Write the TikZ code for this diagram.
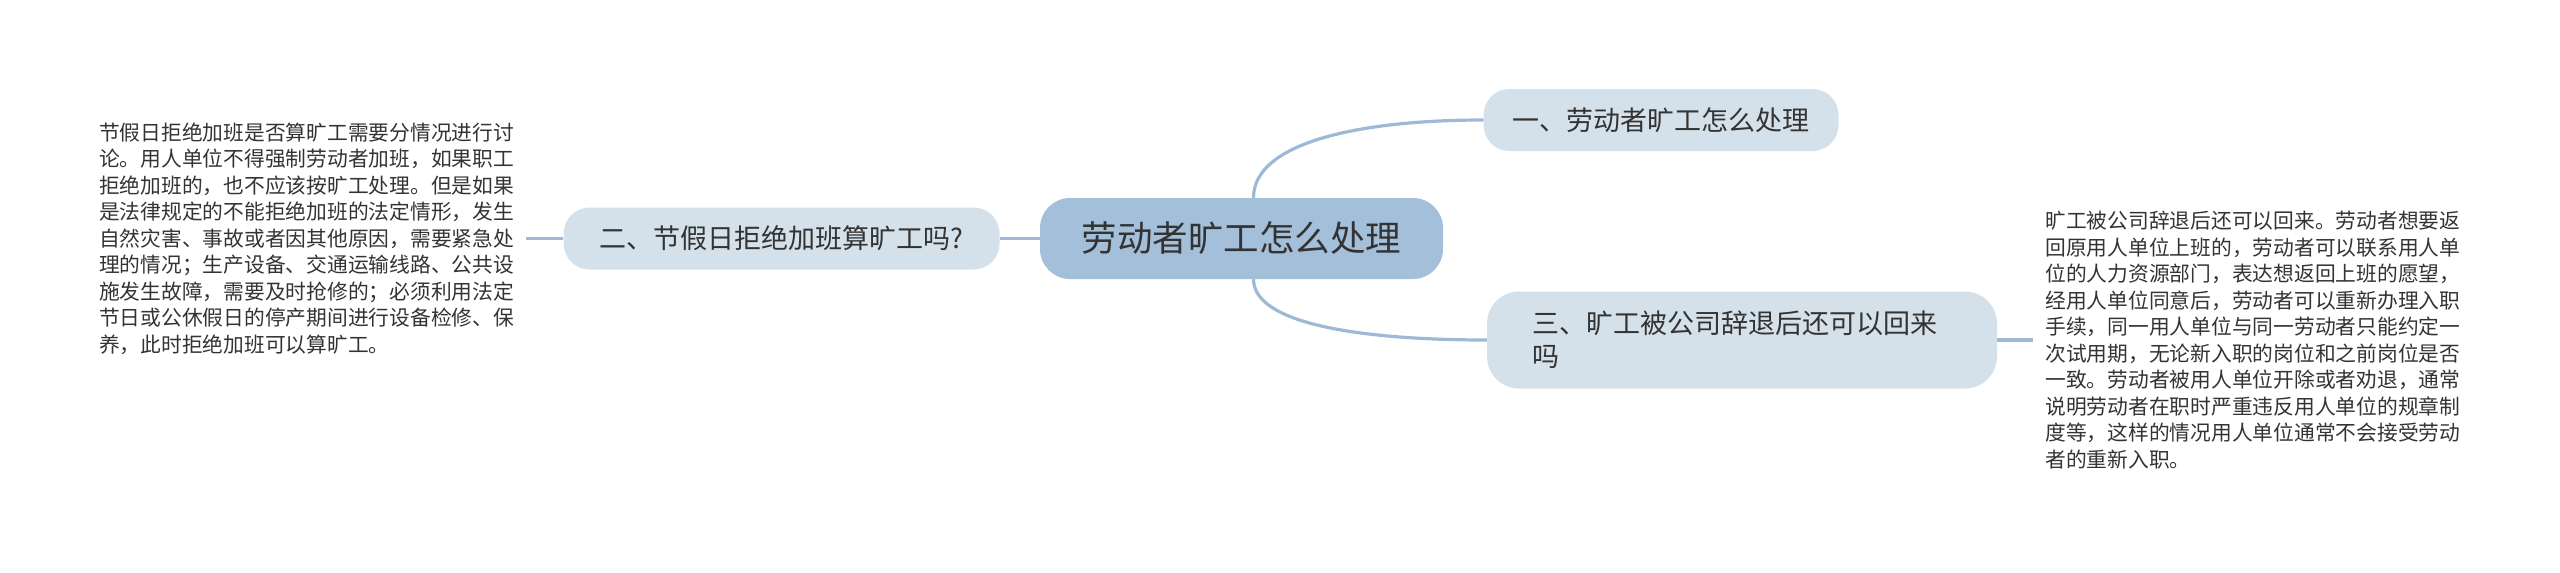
\documentclass[tikz,border=0pt]{standalone}
\usepackage{fontspec}
\setmainfont{Noto Sans CJK SC}
\usepackage{tikz}
\usetikzlibrary{positioning}
\definecolor{hubblue}{HTML}{A3BFDA}
\definecolor{topicblue}{HTML}{D5E1EA}
\definecolor{linkblue}{HTML}{9DB9D5}
\definecolor{inkgray}{HTML}{333333}

\begin{document}
\begin{tikzpicture}[
    x=1pt, y=-1pt,
    hub/.style={rectangle, rounded corners=30pt, fill=hubblue, text=inkgray,
                minimum width=403pt, minimum height=81pt,
                font=\fontsize{35.5}{40}\selectfont},
    topic/.style={rectangle, rounded corners=26pt, fill=topicblue, text=inkgray,
                  minimum height=62pt, inner xsep=0pt,
                  font=\fontsize{27}{33}\selectfont},
    note/.style={align=left, inner xsep=12pt, inner ysep=0pt, text=inkgray,
                 font=\fontsize{20.75}{26.5}\selectfont},
    link/.style={draw=linkblue, line width=3.2pt},
  ]
  \useasboundingbox (0,0) rectangle (2560,573);

  \node[hub] (hub) at (1241.5,238.5) {劳动者旷工怎么处理};
  \node[topic, minimum width=355pt] (t1) at (1661,120) {一、劳动者旷工怎么处理};
  \node[topic, minimum width=436pt, left=40pt of hub] (t2) {二、节假日拒绝加班算旷工吗?};
  \node[topic, minimum width=510pt, minimum height=97pt, rounded corners=32pt,
        text width=420pt, align=left] (t3) at (1742,340)
        {三、旷工被公司辞退后还可以回来\\吗};

  \node[note, left=37pt of t2] (n2) {节假日拒绝加班是否算旷工需要分情况进行讨\\
    论。用人单位不得强制劳动者加班，如果职工\\
    拒绝加班的，也不应该按旷工处理。但是如果\\
    是法律规定的不能拒绝加班的法定情形，发生\\
    自然灾害、事故或者因其他原因，需要紧急处\\
    理的情况；生产设备、交通运输线路、公共设\\
    施发生故障，需要及时抢修的；必须利用法定\\
    节日或公休假日的停产期间进行设备检修、保\\
    养，此时拒绝加班可以算旷工。};
  \node[note, right=36pt of t3] (n3) {旷工被公司辞退后还可以回来。劳动者想要返\\
    回原用人单位上班的，劳动者可以联系用人单\\
    位的人力资源部门，表达想返回上班的愿望，\\
    经用人单位同意后，劳动者可以重新办理入职\\
    手续，同一用人单位与同一劳动者只能约定一\\
    次试用期，无论新入职的岗位和之前岗位是否\\
    一致。劳动者被用人单位开除或者劝退，通常\\
    说明劳动者在职时严重违反用人单位的规章制\\
    度等，这样的情况用人单位通常不会接受劳动\\
    者的重新入职。};

  \draw[link] ([xshift=12pt]hub.north) .. controls +(0,-55) and +(-125,0) .. (t1.west);
  \draw[link] ([xshift=12pt]hub.south) .. controls +(0,45) and +(-125,0) .. (t3.west);
  \draw[link] (hub.west) -- (t2.east);
  \draw[link] (t2.west) -- (n2.east);
  \draw[link] (t3.east) -- (n3.west);
\end{tikzpicture}
\end{document}
